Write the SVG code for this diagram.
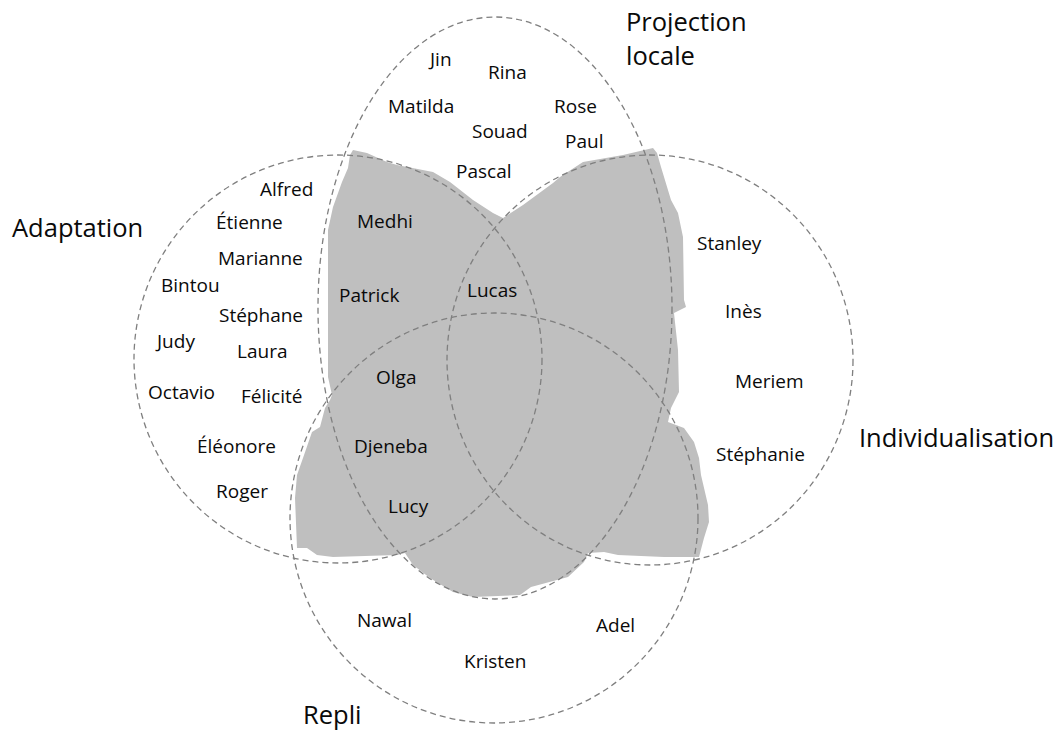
<svg xmlns="http://www.w3.org/2000/svg" width="1063" height="730" viewBox="0 0 1063 730">
<style>
.set{fill:none;stroke:#7f7f7f;stroke-width:1.3;stroke-dasharray:6 4}
.nm{font-family:"Open Sans","Noto Sans",sans-serif;font-size:19px;fill:#0a0a0a}
.tt{font-family:"Open Sans","Noto Sans",sans-serif;font-size:25.5px;fill:#0a0a0a}
</style>
<rect width="1063" height="730" fill="#fff"/>
<g id="blob">
<path fill="#bfbfbf" d="M353,150 L367,153 L387,162 L397,165 L433,172 L450,182 L473,200 L493,213 L503,218 L523,205 L553,183 L560,177 L583,162 L623,155 L653,148 L657,153 L661,167 L671,200 L678,213 L683,237 L684,300 L686,307 L674,313 L678,350 L679,392 L671,408 L668,422 L684,428 L694,442 L699,458 L701,475 L708,505 L709,522 L704,538 L699,557 L664,557 L618,555 L604,552 L588,553 L584,562 L568,577 L531,587 L520,595 L473,597 L453,592 L430,578 L413,565 L405,553 L397,555 L333,557 L317,555 L307,548 L297,548 L295,498 L297,475 L303,458 L312,432 L320,427 L325,408 L330,400 L332,395 L328,377 L328,230 L333,207 L342,182 L348,168 L350,155 Z"/>
</g>
<g id="connectors">
<ellipse id="set-adaptation" class="set" cx="338" cy="359" rx="204" ry="204"/>
<ellipse id="set-projection" class="set" cx="495" cy="308" rx="177" ry="291"/>
<ellipse id="set-individualisation" class="set" cx="650" cy="360" rx="203" ry="205"/>
<ellipse id="set-repli" class="set" cx="494" cy="518" rx="204" ry="205"/>
</g>
<g id="titles">
<text id="t-adaptation" class="tt" x="12" y="237">Adaptation</text>
<text id="t-projection" class="tt" x="626" y="31">Projection</text>
<text id="t-locale" class="tt" x="626" y="65">locale</text>
<text id="t-individualisation" class="tt" x="859" y="447">Individualisation</text>
<text id="t-repli" class="tt" x="303" y="724">Repli</text>
</g>
<g id="names">
<text class="nm" x="430" y="66">Jin</text>
<text class="nm" x="488" y="79">Rina</text>
<text class="nm" x="388" y="113">Matilda</text>
<text class="nm" x="554" y="113">Rose</text>
<text class="nm" x="472" y="138">Souad</text>
<text class="nm" x="565" y="148">Paul</text>
<text class="nm" x="456" y="178">Pascal</text>
<text class="nm" x="260" y="196">Alfred</text>
<text class="nm" x="216" y="229">Étienne</text>
<text class="nm" x="357" y="228">Medhi</text>
<text class="nm" x="218" y="265">Marianne</text>
<text class="nm" x="161" y="292">Bintou</text>
<text class="nm" x="339" y="302">Patrick</text>
<text class="nm" x="467" y="297">Lucas</text>
<text class="nm" x="219" y="322">Stéphane</text>
<text class="nm" x="157" y="348">Judy</text>
<text class="nm" x="237" y="358">Laura</text>
<text class="nm" x="376" y="384">Olga</text>
<text class="nm" x="148" y="399">Octavio</text>
<text class="nm" x="241" y="403">Félicité</text>
<text class="nm" x="197" y="453">Éléonore</text>
<text class="nm" x="354" y="453">Djeneba</text>
<text class="nm" x="216" y="498">Roger</text>
<text class="nm" x="388" y="513">Lucy</text>
<text class="nm" x="697" y="250">Stanley</text>
<text class="nm" x="725" y="318">Inès</text>
<text class="nm" x="735" y="388">Meriem</text>
<text class="nm" x="716" y="461">Stéphanie</text>
<text class="nm" x="357" y="627">Nawal</text>
<text class="nm" x="596" y="632">Adel</text>
<text class="nm" x="464" y="668">Kristen</text>
</g>
</svg>
